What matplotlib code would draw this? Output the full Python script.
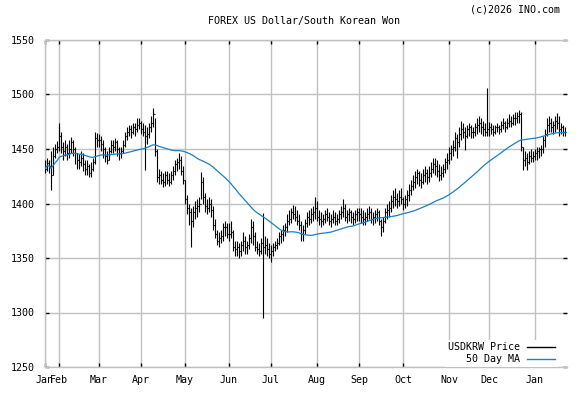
import numpy as np
import pandas as pd
import matplotlib
matplotlib.use("Agg")
import matplotlib.pyplot as plt
from matplotlib.lines import Line2D

# daily USD/KRW bars, Jan 23 2025 .. Jan 22 2026
closes = [
    1432, 1437, 1434, 1426, 1444, 1450, 1452,  # Jan
    1462, 1452, 1448, 1452, 1446, 1450, 1456, 1450, 1446, 1440, 1438, 1442, 1436, 1432, 1434, 1428, 1432, 1438, 1460, 1458,  # Feb
    1458, 1455, 1450, 1444, 1440, 1448, 1454, 1452, 1456, 1450, 1446, 1448, 1454, 1462, 1466, 1468, 1466, 1470, 1468, 1472, 1474,  # Mar
    1468, 1466, 1462, 1464, 1470, 1474, 1482, 1448, 1424, 1426, 1422, 1420, 1426, 1422, 1420, 1426, 1430, 1436, 1438, 1440, 1430, 1422,  # Apr
    1404, 1396, 1392, 1384, 1392, 1396, 1398, 1400, 1420, 1406, 1398, 1396, 1400, 1394, 1380, 1372, 1366, 1368, 1370, 1378, 1378, 1372,  # May
    1372, 1374, 1360, 1358, 1360, 1356, 1362, 1366, 1360, 1362, 1368, 1378, 1370, 1360, 1358, 1356, 1364, 1360, 1362, 1358, 1354,  # Jun
    1356, 1360, 1362, 1364, 1370, 1372, 1376, 1378, 1384, 1386, 1392, 1390, 1388, 1384, 1380, 1372, 1376, 1382, 1388, 1386, 1390, 1392, 1396,  # Jul
    1388, 1386, 1384, 1386, 1390, 1388, 1384, 1386, 1388, 1384, 1386, 1390, 1392, 1396, 1388, 1390, 1392, 1388, 1386, 1390, 1392,  # Aug
    1390, 1388, 1386, 1388, 1390, 1392, 1386, 1388, 1390, 1392, 1384, 1378, 1384, 1392, 1394, 1396, 1402, 1406, 1404, 1402, 1406, 1404,  # Sep
    1400, 1404, 1408, 1412, 1416, 1420, 1424, 1428, 1422, 1420, 1426, 1428, 1424, 1428, 1432, 1436, 1434, 1430, 1426, 1428, 1432, 1438, 1440,  # Oct
    1446, 1450, 1452, 1460, 1456, 1464, 1468, 1466, 1462, 1468, 1470, 1466, 1466, 1470, 1472, 1474, 1470, 1468, 1466, 1468,  # Nov
    1470, 1468, 1466, 1470, 1470, 1468, 1472, 1474, 1470, 1474, 1476, 1474, 1478, 1478, 1480, 1482, 1452, 1440, 1442, 1438, 1444, 1442, 1444,  # Dec
    1446, 1448, 1450, 1450, 1458, 1464, 1472, 1474, 1470, 1472, 1476, 1474, 1468, 1470, 1466, 1466,  # Jan
]
highs = [
    1440, 1442, 1440, 1448, 1452, 1455, 1457,
    1474, 1466, 1456, 1458, 1455, 1458, 1461, 1458, 1452, 1446, 1445, 1448, 1446, 1440, 1440, 1436, 1438, 1442, 1466, 1465,
    1464, 1462, 1458, 1452, 1448, 1452, 1458, 1458, 1460, 1458, 1452, 1452, 1458, 1466, 1470, 1472, 1472, 1474, 1474, 1478, 1478,
    1476, 1474, 1472, 1470, 1474, 1480, 1488, 1478, 1450, 1432, 1430, 1428, 1430, 1430, 1428, 1430, 1434, 1440, 1442, 1446, 1444, 1434,
    1422, 1408, 1400, 1396, 1398, 1402, 1404, 1406, 1429, 1424, 1410, 1404, 1406, 1404, 1398, 1386, 1376, 1374, 1376, 1382, 1384, 1382,
    1382, 1384, 1376, 1366, 1366, 1364, 1366, 1374, 1370, 1366, 1372, 1386, 1384, 1374, 1366, 1364, 1368, 1391, 1370, 1368, 1364,
    1362, 1364, 1366, 1368, 1374, 1376, 1380, 1382, 1390, 1394, 1396, 1399, 1398, 1394, 1390, 1384, 1380, 1386, 1392, 1394, 1396, 1398, 1406,
    1402, 1394, 1392, 1390, 1394, 1396, 1392, 1390, 1394, 1392, 1390, 1394, 1398, 1404, 1400, 1394, 1396, 1394, 1392, 1394, 1396,
    1396, 1396, 1394, 1392, 1396, 1398, 1396, 1392, 1394, 1396, 1394, 1386, 1388, 1396, 1400, 1402, 1408, 1412, 1414, 1410, 1412, 1414,
    1406, 1408, 1412, 1418, 1422, 1426, 1430, 1432, 1430, 1428, 1432, 1434, 1432, 1434, 1438, 1442, 1442, 1440, 1436, 1434, 1436, 1442, 1446,
    1452, 1454, 1458, 1466, 1464, 1470, 1476, 1474, 1470, 1472, 1474, 1472, 1470, 1474, 1478, 1480, 1478, 1476, 1474, 1506,
    1475, 1474, 1472, 1472, 1474, 1472, 1476, 1478, 1476, 1478, 1482, 1480, 1482, 1484, 1484, 1486, 1484, 1452, 1448, 1446, 1448, 1450, 1448,
    1450, 1452, 1452, 1454, 1462, 1468, 1478, 1480, 1478, 1476, 1480, 1483, 1480, 1474, 1472, 1470,
]
lows = [
    1428, 1430, 1428, 1412, 1426, 1442, 1446,
    1448, 1446, 1440, 1444, 1440, 1442, 1446, 1444, 1436, 1432, 1432, 1434, 1430, 1426, 1426, 1424, 1424, 1430, 1436, 1452,
    1452, 1448, 1442, 1438, 1436, 1440, 1446, 1446, 1448, 1444, 1440, 1442, 1446, 1452, 1458, 1462, 1460, 1464, 1462, 1466, 1468,
    1464, 1462, 1431, 1455, 1460, 1466, 1470, 1444, 1420, 1418, 1418, 1415, 1416, 1418, 1416, 1418, 1422, 1426, 1430, 1432, 1426, 1418,
    1400, 1390, 1380, 1360, 1378, 1386, 1388, 1392, 1404, 1400, 1392, 1390, 1392, 1388, 1376, 1368, 1362, 1360, 1364, 1366, 1370, 1368,
    1366, 1368, 1356, 1352, 1352, 1350, 1352, 1356, 1354, 1354, 1358, 1364, 1362, 1356, 1354, 1352, 1354, 1295, 1354, 1352, 1350,
    1346, 1352, 1356, 1358, 1362, 1364, 1366, 1370, 1374, 1380, 1382, 1386, 1384, 1380, 1376, 1366, 1366, 1372, 1378, 1380, 1382, 1384, 1386,
    1384, 1380, 1378, 1380, 1382, 1384, 1380, 1378, 1382, 1380, 1380, 1382, 1386, 1388, 1384, 1382, 1384, 1382, 1380, 1382, 1384,
    1384, 1382, 1380, 1380, 1384, 1386, 1382, 1380, 1382, 1384, 1380, 1370, 1374, 1382, 1386, 1388, 1392, 1396, 1398, 1396, 1398, 1400,
    1394, 1396, 1398, 1402, 1408, 1412, 1414, 1418, 1416, 1414, 1418, 1420, 1418, 1420, 1424, 1428, 1426, 1424, 1421, 1422, 1424, 1428, 1432,
    1436, 1440, 1444, 1448, 1442, 1452, 1458, 1460, 1449, 1460, 1462, 1460, 1460, 1462, 1464, 1466, 1464, 1462, 1462, 1462,
    1462, 1464, 1462, 1464, 1466, 1464, 1466, 1468, 1466, 1468, 1470, 1470, 1472, 1472, 1474, 1474, 1448, 1431, 1434, 1431, 1436, 1438, 1438,
    1440, 1440, 1442, 1444, 1446, 1452, 1462, 1466, 1466, 1464, 1466, 1468, 1462, 1464, 1462, 1462,
]

dates = pd.bdate_range("2025-01-23", periods=len(closes))
close = pd.Series(closes, dtype=float)
opens = close.shift(1).fillna(close.iloc[0])
ma50 = close.rolling(50, min_periods=1).mean()
x = np.arange(len(closes))

# month ticks: first bar of each month
month_idx = [0] + [i for i in range(1, len(dates)) if dates[i].month != dates[i - 1].month]
month_lbl = [dates[i].strftime("%b") for i in month_idx]

plt.rcParams["font.family"] = ["DejaVu Sans Mono"]
grid_c = "#c0c0c0"
ma_c = "#1a80c4"

fig = plt.figure(figsize=(5.85, 3.94), dpi=100)
ax = fig.add_axes([45 / 585, 1 - 367 / 394, 522 / 585, 327 / 394])

ax.vlines(x, lows, highs, color="black", lw=0.8, zorder=3)
ax.hlines(opens, x - 0.45, x, color="black", lw=0.8, zorder=3)
ax.hlines(closes, x, x + 0.45, color="black", lw=0.8, zorder=3)
ax.plot(x, ma50, color=ma_c, lw=0.9, zorder=4)

ax.set_xlim(0, 261)
ax.set_ylim(1250, 1550)
ax.set_yticks(np.arange(1250, 1551, 50))
ax.set_xticks(month_idx)
ax.set_xticklabels(month_lbl)
ax.grid(True, color=grid_c, lw=1.0)
ax.set_axisbelow(True)

for side in ["left", "top", "bottom"]:
    ax.spines[side].set_color(grid_c)
    ax.spines[side].set_linewidth(1.0)
ax.spines["right"].set_visible(False)

ax.tick_params(direction="in", length=3, width=1.0, color="black",
               top=True, right=True, labelsize=7.2, labelcolor="black")
ax.tick_params(axis="y", pad=7)
ax.tick_params(axis="x", pad=6)

fig.text(304 / 585, 1 - 21 / 394, "FOREX US Dollar/South Korean Won",
         ha="center", va="center", fontsize=7.2)
fig.text(560 / 585, 1 - 9 / 394, "(c)2026 INO.com",
         ha="right", va="center", fontsize=7.2)

handles = [Line2D([], [], color="black", lw=1.0),
           Line2D([], [], color=ma_c, lw=1.0)]
ax.legend(handles, ["USDKRW Price", "50 Day MA"], loc="lower right",
          bbox_to_anchor=(0.982, 0.0), markerfirst=False, fontsize=7.2,
          frameon=True, fancybox=False, framealpha=1.0, facecolor="white",
          edgecolor="none", borderpad=0.3, borderaxespad=0.0,
          handlelength=2.8, handletextpad=0.7, labelspacing=0.15)

fig.savefig("out.png", dpi=100)
